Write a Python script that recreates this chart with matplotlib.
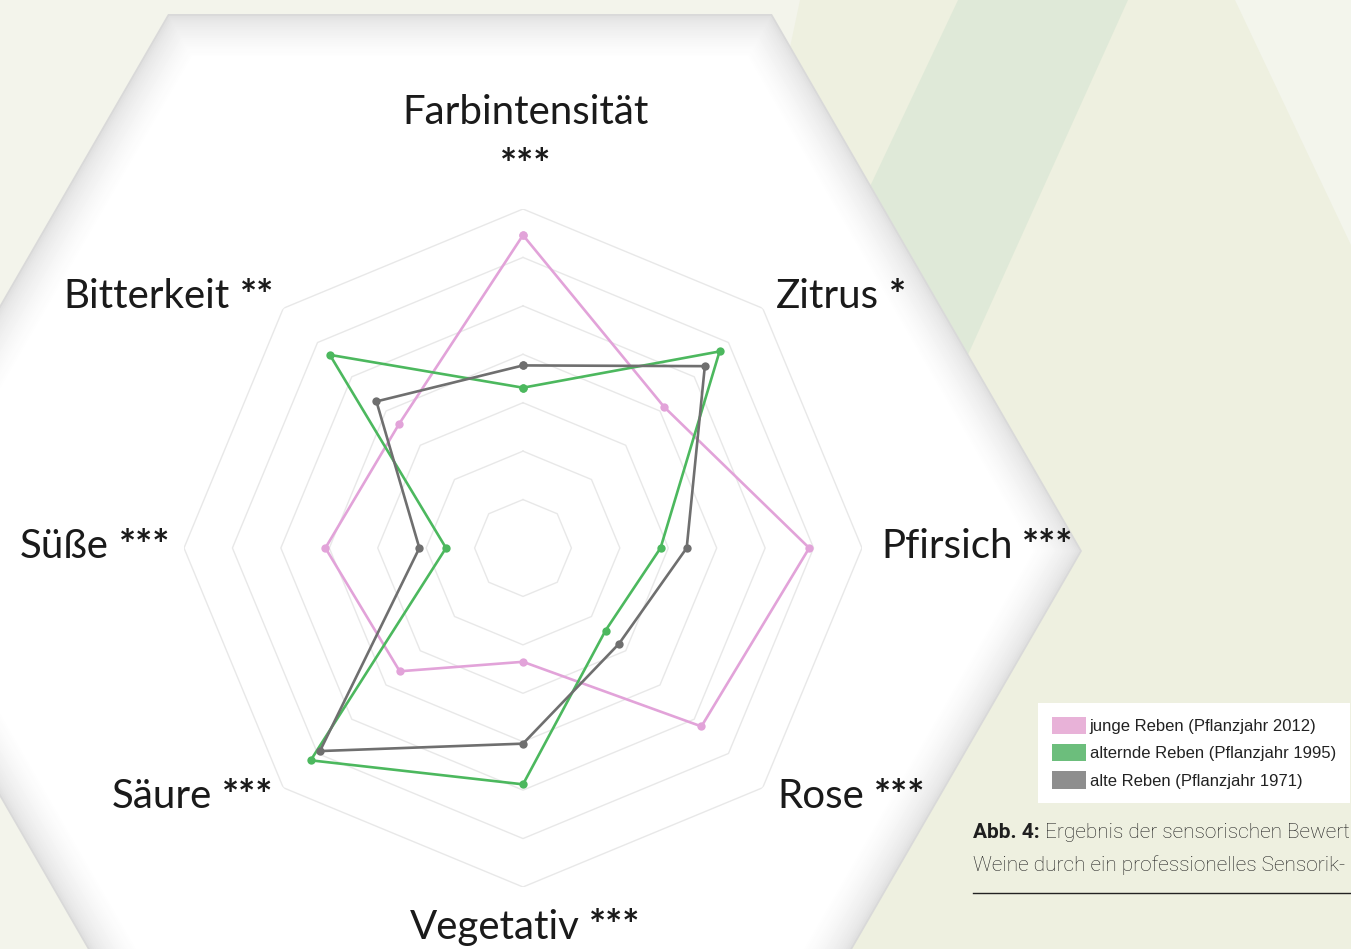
import numpy as np
import matplotlib
matplotlib.use('Agg')
import matplotlib.pyplot as plt
from matplotlib.patches import Polygon, Patch
from matplotlib.offsetbox import TextArea, HPacker, AnnotationBbox

# axes of the spider chart, clockwise from the top
labels = ['Farbintensität', 'Zitrus', 'Pfirsich', 'Rose',
          'Vegetativ', 'Säure', 'Süße', 'Bitterkeit']
signif = ['***', '*', '***', '***', '***', '***', '***', '**']

junge = [6.46, 4.12, 5.91, 5.21, 2.35, 3.60, 4.08, 3.62]
alternde = [3.31, 5.74, 2.84, 2.41, 4.88, 6.20, 1.59, 5.64]
alte = [3.77, 5.31, 3.38, 2.80, 4.04, 5.93, 2.14, 4.28]

series_names = ['junge Reben (Pflanzjahr 2012)',
                'alternde Reben (Pflanzjahr 1995)',
                'alte Reben (Pflanzjahr 1971)']
series_colors = ['#e2a3d9', '#4cb85e', '#6f6f6f']
patch_colors = ['#e8b2d8', '#6cbe7c', '#8e8e8e']
rings = [1, 2, 3, 4, 5, 6, 7]

W, H = 1351, 949
fig = plt.figure(figsize=(W / 100, H / 100), dpi=100)
fig.patch.set_facecolor('#f3f4eb')

# background decoration in pixel coordinates
bg = fig.add_axes([0, 0, 1, 1], zorder=0)
bg.set_xlim(0, W)
bg.set_ylim(H, 0)
bg.set_axis_off()
bg.add_patch(Polygon([(800, 0), (W, 0), (W, H), (600, H)], closed=True,
                     facecolor='#eef0e0', edgecolor='none'))
bg.add_patch(Polygon([(958, 0), (1128, 0), (700, H), (510, H)], closed=True,
                     facecolor='#dce8d6', edgecolor='none', alpha=0.8))
bg.add_patch(Polygon([(1235, 0), (W, 0), (W, 245)], closed=True,
                     facecolor='#f3f5ec', edgecolor='none'))

# white hexagon with a soft inner shadow
hex_pts = np.array([(168, 14), (772, 14), (1082, 551), (772, 1088),
                    (168, 1088), (-142, 551)], dtype=float)
hc = np.array([470.0, 551.0])
steps = 24
for i in range(steps):
    d = 42 * i / (steps - 1)
    s = 1 - d / 537
    g = 0.85 + 0.15 * (i / (steps - 1)) ** 0.5
    bg.add_patch(Polygon(hc + (hex_pts - hc) * s, closed=True,
                         facecolor=(g, g, g), edgecolor='none'))

# radar chart
ax = fig.add_axes([184 / W, 62 / H, 678 / W, 678 / H], projection='polar', zorder=2)
ax.set_facecolor('none')
ax.set_theta_offset(np.pi / 2)
ax.set_theta_direction(-1)
ax.set_ylim(0, 7)
ax.set_axis_off()

n = len(labels)
angles = np.linspace(0, 2 * np.pi, n, endpoint=False)
closed = np.append(angles, angles[0])

for r in rings:
    ax.plot(closed, [r] * (n + 1), color='#e8e8e8', lw=1.0, zorder=1)

for vals, col in zip([junge, alternde, alte], series_colors):
    v = np.append(vals, vals[0])
    ax.plot(closed, v, color=col, lw=1.9, marker='o', markersize=6,
            markeredgewidth=0, zorder=3)

name_props = dict(family='Lato', fontsize=29, color='#1a1a1a')
star_props = dict(family='Lato', fontsize=29, color='#1a1a1a', fontweight='bold')
# label anchors (pixel positions) and horizontal box alignment
label_pos = [(526, 112, 0.5), (776, 297, 0.0), (881, 547, 0.0),
             (777, 797, 0.0), (525, 928, 0.5), (273, 797, 1.0),
             (170, 547, 1.0), (274, 297, 1.0)]
for name, stars, (x, y, hx) in zip(labels, signif, label_pos):
    if name == 'Farbintensität':
        bg.text(x, y, name, ha='center', va='center', **name_props)
        bg.text(x, y + 54, stars, ha='center', va='center', **star_props)
        continue
    box = HPacker(children=[TextArea(name, textprops=name_props),
                            TextArea(stars, textprops=star_props)],
                  align='baseline', pad=0, sep=7)
    ab = AnnotationBbox(box, (x, y), xycoords='data', box_alignment=(hx, 0.5),
                        frameon=False, pad=0)
    bg.add_artist(ab)

# legend
handles = [Patch(facecolor=c, edgecolor='none', label=l)
           for c, l in zip(patch_colors, series_names)]
leg = fig.legend(handles=handles, loc='upper left',
                 bbox_to_anchor=(1038 / W, 1 - 703 / H),
                 frameon=True, fancybox=False, framealpha=1,
                 facecolor='white', edgecolor='none',
                 prop={'family': 'Liberation Sans', 'size': 12},
                 handlelength=2.0, handleheight=1.2, handletextpad=0.25,
                 labelspacing=0.6, borderpad=0.85, borderaxespad=0)
for t in leg.get_texts():
    t.set_color('#222222')

# caption (cut at the right border as in the page layout)
cap_font = dict(family='Roboto', fontsize=15, color='#1f1f1f')
b = bg.text(973, 833, 'Abb. 4:', fontweight='bold', va='center', ha='left', **cap_font)
fig.canvas.draw()
bb = b.get_window_extent()
bg.text(bb.x1 + 5, H - 833, 'Ergebnis der sensorischen Bewert',
        transform=None, va='center', ha='left', fontweight='light', **cap_font)
bg.text(973, 865, 'Weine durch ein professionelles Sensorik-',
        va='center', ha='left', fontweight='light', **cap_font)
bg.plot([973, W], [893, 893], color='#222222', lw=1.0)

fig.savefig('out.png', dpi=100, facecolor=fig.get_facecolor())
